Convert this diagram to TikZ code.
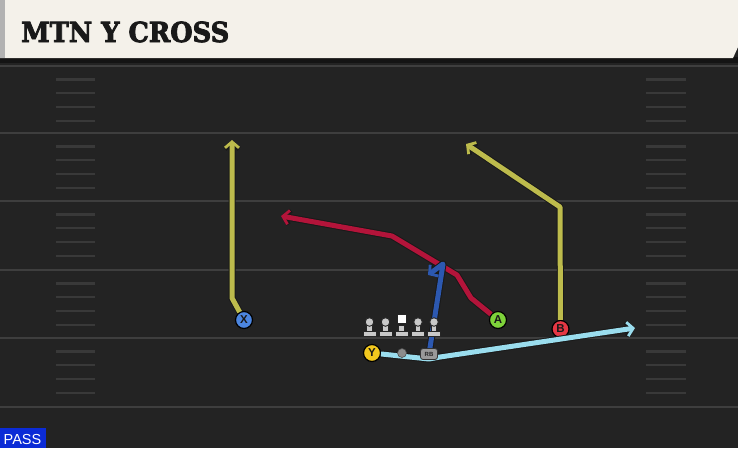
\documentclass[tikz,border=0pt]{standalone}
\usepackage{fontspec}
\setmainfont{Liberation Sans}
\newfontfamily\titlefont[BoldFeatures={FakeBold=3}]{DejaVu Serif}
\usetikzlibrary{arrows.meta}
\definecolor{field}{HTML}{232323}
\definecolor{yline}{HTML}{3E3E3E}
\definecolor{hashc}{HTML}{393939}
\definecolor{cream}{HTML}{F4F1EA}
\definecolor{olive}{HTML}{BDBB4C}
\definecolor{crimson}{HTML}{B3143A}
\definecolor{navy}{HTML}{2C58B0}
\definecolor{sky}{HTML}{9ADDEE}
\definecolor{xblue}{HTML}{4C86E0}
\definecolor{agreen}{HTML}{7ED23A}
\definecolor{bred}{HTML}{E53744}
\definecolor{yyellow}{HTML}{F2C81E}
\definecolor{lgray}{HTML}{C9C9C9}
\definecolor{passblue}{HTML}{0B2BD6}
\tikzset{
  routeout/.style={line width=7pt, color=black!90, line join=round, -{Straight Barb[length=6pt,width=14pt,line width'=4.6pt]}},
  route/.style={line width=5pt, color=#1, line join=round, -{Straight Barb[length=6pt,width=14pt,line width'=2.8pt]}},
  player/.style={circle, draw=black, line width=1.2pt, minimum size=17pt, inner sep=0pt, font=\bfseries\fontsize{11.5}{11.5}\selectfont, text=black!90},
  yardline/.style={draw=yline, line width=2.8pt},
  hashmark/.style={draw=hashc, line width=2.3pt},
  lman/.style={fill=lgray, draw=black!85, line width=0.9pt},
  qbdot/.style={circle, fill=black!45, draw=black!70, line width=0.6pt, minimum size=9pt, inner sep=0pt},
  rbbox/.style={rounded corners=2.5pt, fill=black!40, draw=black!80, line width=0.8pt, minimum width=17pt, minimum height=11pt, inner sep=0pt, font=\bfseries\fontsize{6}{6}\selectfont, text=black!85}
}
\newcommand\myroute[2]{\draw[routeout] #2; \draw[route=#1] #2;}
\newcommand\lineman[2]{%
  \filldraw[lman] (#1-6.5,#2+9.5) rectangle (#1+6.5,#2+14);
  \filldraw[lman] (#1-2.8,#2+3) rectangle (#1+2.8,#2+9.5);
}
\begin{document}
\begin{tikzpicture}[x=1pt,y=-1pt]
\useasboundingbox (0,0) rectangle (738,448);
% field
\fill[field] (0,0) rectangle (738,448);
\foreach \y in {66,133,201,270,338,407} {\draw[yardline] (0,\y) -- (738,\y);}
\foreach \s in {66,133,201,270,338} {
  \foreach \o in {13.5,27,41,55} {
    \draw[hashmark] (56,\s+\o) -- (95,\s+\o);
    \draw[hashmark] (646,\s+\o) -- (686,\s+\o);
  }
}
% header
\fill[black!92] (0,57) rectangle (738,62.5);
\fill[cream] (0,0) -- (738,0) -- (738,47) -- (733,58) -- (0,58) -- cycle;
\fill[black!30] (0,0) rectangle (5,58);
\node[anchor=base west, inner sep=0pt, text=black!90] (title) at (21,42)
  {\resizebox{208pt}{20.5pt}{\titlefont\bfseries MTN Y CROSS}};
% players
\node[player, fill=xblue] (X) at (244,320) {X};
\node[player, fill=agreen] (A) at (498,320) {A};
\node[player, fill=bred] (B) at (560.5,329) {B};
\node[player, fill=yyellow] (Y) at (372,353) {Y};
\coordinate (QB) at (402,353);
\coordinate (RB) at (429,354);
% routes
\myroute{olive}{(X) -- (232,298) -- (232,140)}
\myroute{olive}{(B) -- (560,207) -- (466,144)}
\myroute{crimson}{(A) -- (471,298) -- (457,275) -- (392,236) -- (281,216)}
\myroute{navy}{(RB) -- (443,264) -- (428,275)}
\myroute{sky}{(Y) -- (429,359) -- (440,357) -- (635,328)}
\node[qbdot] (qbnode) at (QB) {};
\node[rbbox] (rbnode) at (RB) {RB};
% line
\foreach \x in {369.5,385.5,418,434} {
  \lineman{\x}{322}
  \filldraw[lman] (\x,322) circle (4.3pt);
}
\lineman{401.5}{322}
\filldraw[fill=white, draw=black!85, line width=0.9pt] (397,314) rectangle (406,323.5);
% play type
\fill[passblue] (0,428) rectangle (46,448);
\node[anchor=base west, inner sep=0pt, text=white, font=\fontsize{14.5}{14.5}\selectfont] (pass) at (3.5,444) {PASS};
\end{tikzpicture}
\end{document}
